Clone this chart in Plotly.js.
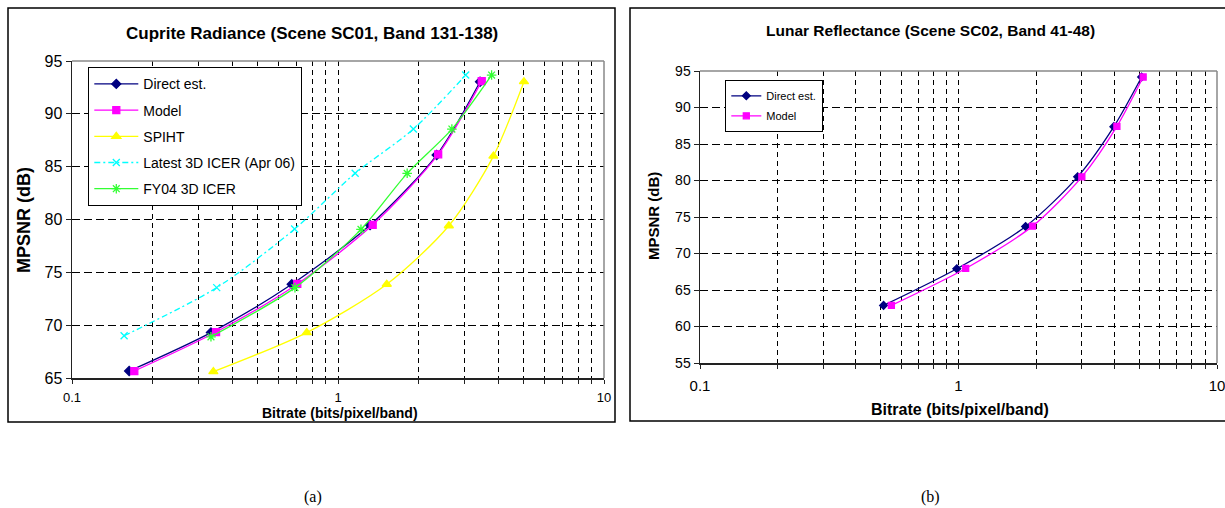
<!DOCTYPE html>
<html>
<head>
<meta charset="utf-8">
<script src="https://cdn.plot.ly/plotly-3.0.1.min.js"></script>
<style>html,body{margin:0;padding:0;background:#fff;}#chart{width:1225px;height:508px;}</style>
</head>
<body>
<div id="chart"></div>
<script>
// ---- Chart (a): Cuprite Radiance ----
const directA_x = [0.164, 0.333, 0.670, 1.32, 2.35, 3.42];
const directA_y = [65.66, 69.3, 73.87, 79.47, 86.1, 93.04];
const modelA_x = [0.1715, 0.348, 0.703, 1.35, 2.38, 3.47];
const modelA_y = [65.66, 69.35, 73.9, 79.5, 86.17, 93.1];
const spiht_x = [0.340, 0.763, 1.525, 2.61, 3.84, 5.0];
const spiht_y = [65.6, 69.3, 73.87, 79.41, 86.0, 93.04];
const latest_x = [0.157, 0.350, 0.687, 1.16, 1.92, 3.02];
const latest_y = [69.0, 73.55, 79.1, 84.37, 88.56, 93.67];
const fy04_x = [0.333, 0.689, 1.22, 1.82, 2.68, 3.78];
const fy04_y = [68.9, 73.55, 79.07, 84.37, 88.56, 93.67];

// ---- Chart (b): Lunar Reflectance ----
const directB_x = [0.513, 0.985, 1.818, 2.89, 3.99, 5.11];
const directB_y = [62.89, 67.91, 73.7, 80.5, 87.38, 94.18];
const modelB_x = [0.550, 1.066, 1.934, 3.0, 4.10, 5.18];
const modelB_y = [62.89, 67.95, 73.75, 80.5, 87.42, 94.18];

// tick labels
const logTickVals = [0.1,0.2,0.3,0.4,0.5,0.6,0.7,0.8,0.9,1,2,3,4,5,6,7,8,9,10];
const logTickText = ['0.1','','','','','','','','','1','','','','','','','','','10'];
const titleA = 'Cuprite Radiance (Scene SC01, Band 131-138)';
const titleB = 'Lunar Reflectance (Scene SC02, Band 41-48)';
const xTitle = 'Bitrate (bits/pixel/band)';
const yTitle = 'MPSNR (dB)';
const labelA = '(a)';
const labelB = '(b)';

const W = 1225, H = 508;
const px = v => v / W;
const py = v => 1 - v / H;
const FONT = 'Arial, "Liberation Sans", sans-serif';

function tr(x, y, name, color, symbol, msize, dash, legend, extra) {
  return {
    x: x, y: y, name: name, type: 'scatter', mode: 'lines+markers',
    xaxis: extra.xaxis, yaxis: extra.yaxis,
    line: {color: color, width: 1.3, shape: 'spline', smoothing: 0.8, dash: dash || 'solid'},
    marker: {color: color, symbol: symbol, size: msize, line: {color: color, width: 1.3}},
    legend: legend, legendgroup: legend + name
  };
}

const A = {xaxis: 'x', yaxis: 'y'};
const B = {xaxis: 'x2', yaxis: 'y2'};
const data = [
  tr(directA_x, directA_y, 'Direct est.', '#000080', 'diamond', 7, 'solid', 'legend', A),
  tr(modelA_x, modelA_y, 'Model', '#FF00FF', 'square', 7, 'solid', 'legend', A),
  tr(spiht_x, spiht_y, 'SPIHT', '#FFFF00', 'triangle-up', 8, 'solid', 'legend', A),
  tr(latest_x, latest_y, 'Latest 3D ICER (Apr 06)', '#00FFFF', 'x-thin-open', 7, '6px,3px,2px,3px', 'legend', A),
  tr(fy04_x, fy04_y, 'FY04 3D ICER', '#33FF33', 'asterisk-open', 8, 'solid', 'legend', A),
  tr(directB_x, directB_y, 'Direct est.', '#000080', 'diamond', 6, 'solid', 'legend2', B),
  tr(modelB_x, modelB_y, 'Model', '#FF00FF', 'square', 6, 'solid', 'legend2', B)
];

function xax(domain, tickSize, anchor, standoff) {
  return {
    type: 'log', range: [-1, 1], domain: domain, anchor: anchor,
    tickvals: logTickVals, ticktext: logTickText,
    showgrid: true, gridcolor: '#000', gridwidth: 1, griddash: '5px,4px',
    showline: true, linecolor: '#222', linewidth: 1.5,
    ticks: 'outside', ticklen: 4, tickcolor: '#222',
    tickfont: {family: FONT, size: tickSize, color: '#000'},
    ticklabelstandoff: standoff, ticklabeloverflow: 'allow',
    zeroline: false, fixedrange: true
  };
}
function yax(domain, range, tickSize, anchor) {
  return {
    range: range, domain: domain, anchor: anchor, dtick: 5, tick0: 0,
    showgrid: true, gridcolor: '#000', gridwidth: 1, griddash: '8px,4px',
    showline: true, linecolor: '#222', linewidth: 1.5,
    ticks: 'outside', ticklen: 5, tickcolor: '#222',
    tickfont: {family: FONT, size: tickSize, color: '#000'},
    zeroline: false, fixedrange: true
  };
}

function frame(xd, yd) {
  return [
    {type: 'line', xref: xd, yref: yd, x0: 0, x1: 1, y0: 1, y1: 1, line: {color: '#888', width: 1.5}},
    {type: 'line', xref: xd, yref: yd, x0: 1, x1: 1, y0: 0, y1: 1, line: {color: '#888', width: 1.5}}
  ];
}

function ann(text, x, y, size, bold, rot, family) {
  return {
    text: bold ? '<b>' + text + '</b>' : text, xref: 'paper', yref: 'paper',
    x: px(x), y: py(y), xanchor: 'center', yanchor: 'middle', showarrow: false,
    textangle: rot || 0, font: {family: family || FONT, size: size, color: '#000'}
  };
}

const layout = {
  width: W, height: H, margin: {l: 0, r: 0, t: 0, b: 0, pad: 0},
  paper_bgcolor: '#fff', plot_bgcolor: '#fff', showlegend: true,
  xaxis: xax([px(72), px(604)], 13, 'y', 3),
  yaxis: yax([py(378), py(61)], [65, 95], 16, 'x'),
  xaxis2: xax([px(700), px(1217)], 15, 'y2', 4),
  yaxis2: yax([py(363), py(71)], [55, 95], 14, 'x2'),
  legend: {
    x: px(88), y: py(67), xanchor: 'left', yanchor: 'top',
    bgcolor: '#fff', bordercolor: '#000', borderwidth: 1.3,
    font: {family: FONT, size: 14, color: '#000'},
    traceorder: 'grouped', tracegroupgap: 5, itemwidth: 44
  },
  legend2: {
    x: px(725), y: py(80), xanchor: 'left', yanchor: 'top',
    bgcolor: '#fff', bordercolor: '#000', borderwidth: 1.3,
    font: {family: FONT, size: 11, color: '#000'},
    traceorder: 'grouped', tracegroupgap: 1, itemwidth: 30
  },
  shapes: [
    {type: 'rect', xref: 'paper', yref: 'paper', x0: px(8), x1: px(615), y0: py(8), y1: py(422), line: {color: '#000', width: 1.5}, layer: 'below'},
    {type: 'rect', xref: 'paper', yref: 'paper', x0: px(630), x1: px(1232), y0: py(8), y1: py(421), line: {color: '#000', width: 1.5}, layer: 'below'}
  ].concat(frame('x domain', 'y domain')).concat(frame('x2 domain', 'y2 domain')),
  annotations: [
    ann(titleA, 312, 33, 17, true),
    ann(titleB, 930, 30, 15.5, true),
    ann(xTitle, 340, 413, 14, true),
    ann(xTitle, 960, 409, 16, true),
    ann(yTitle, 24, 220, 18, true, -90),
    ann(yTitle, 653, 216, 15, true, -90),
    ann(labelA, 313, 497, 16, false, 0, '"Liberation Serif", "Times New Roman", serif'),
    ann(labelB, 930, 497, 16, false, 0, '"Liberation Serif", "Times New Roman", serif')
  ]
};

Plotly.newPlot('chart', data, layout, {staticPlot: true, displayModeBar: false});
</script>
</body>
</html>
